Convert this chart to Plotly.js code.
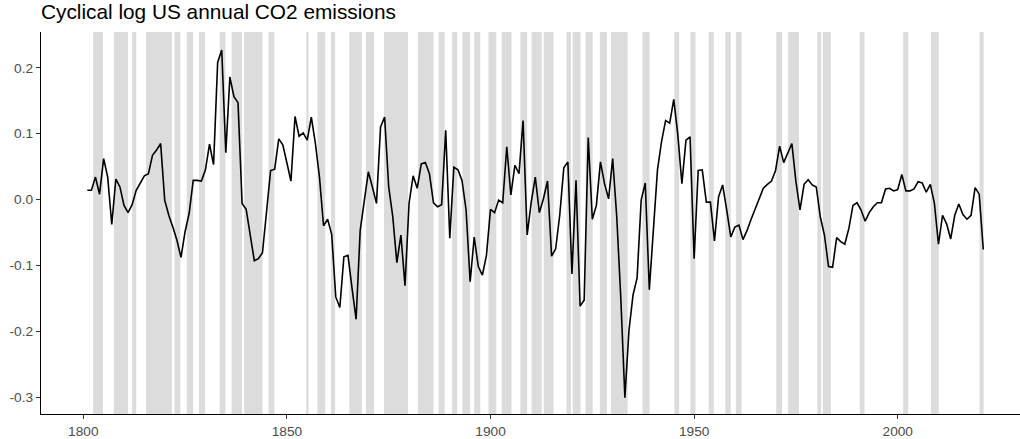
<!DOCTYPE html>
<html>
<head>
<meta charset="utf-8">
<script src="https://cdn.plot.ly/plotly-3.0.1.min.js"></script>
<style>html,body{margin:0;padding:0;background:#fff;}#chart{width:1020px;height:439px;}</style>
</head>
<body>
<div id="chart"></div>
<script>
// Observation years (annual data, dated at year end)
const firstYear = 1800;
const lastYear = 2020;

// Cyclical component of log US annual CO2 emissions, 1800..2020
const cyclical = [
  0.014, 0.014, 0.034, 0.008, 0.062, 0.034, -0.038, 0.031, 0.019, -0.009,
  -0.020, -0.008, 0.014, 0.024, 0.036, 0.039, 0.067, 0.075, 0.085, -0.001,
  -0.024, -0.042, -0.062, -0.088, -0.049, -0.021, 0.029, 0.029, 0.028, 0.045,
  0.084, 0.053, 0.208, 0.227, 0.071, 0.186, 0.156, 0.147, -0.006, -0.015,
  -0.052, -0.093, -0.090, -0.081, -0.019, 0.044, 0.046, 0.092, 0.083, 0.055,
  0.028, 0.126, 0.096, 0.101, 0.090, 0.125, 0.085, 0.034, -0.040, -0.030,
  -0.053, -0.148, -0.164, -0.087, -0.085, -0.135, -0.182, -0.047, -0.006, 0.042,
  0.019, -0.006, 0.110, 0.125, 0.019, -0.026, -0.096, -0.054, -0.131, -0.006,
  0.036, 0.017, 0.054, 0.056, 0.039, -0.005, -0.011, -0.008, 0.105, -0.059,
  0.049, 0.045, 0.029, -0.016, -0.125, -0.057, -0.102, -0.115, -0.085, -0.015,
  -0.020, -0.001, -0.005, 0.080, 0.007, 0.052, 0.039, 0.120, -0.054, -0.004,
  0.034, -0.020, 0.001, 0.028, -0.086, -0.075, -0.024, 0.048, 0.057, -0.113,
  0.029, -0.162, -0.153, 0.094, -0.030, -0.009, 0.057, 0.024, 0.001, 0.062,
  -0.026, -0.150, -0.301, -0.199, -0.145, -0.119, -0.001, 0.025, -0.137, -0.047,
  0.045, 0.088, 0.120, 0.116, 0.152, 0.098, 0.024, 0.090, 0.095, -0.090,
  0.044, 0.045, -0.004, -0.004, -0.063, 0.004, 0.022, -0.016, -0.057, -0.042,
  -0.039, -0.061, -0.047, -0.030, -0.014, -0.001, 0.017, 0.023, 0.028, 0.044,
  0.081, 0.056, 0.070, 0.085, 0.027, -0.016, 0.023, 0.030, 0.022, 0.019,
  -0.027, -0.054, -0.102, -0.103, -0.058, -0.064, -0.068, -0.044, -0.009, -0.005,
  -0.016, -0.033, -0.020, -0.011, -0.005, -0.005, 0.016, 0.017, 0.013, 0.015,
  0.038, 0.013, 0.013, 0.016, 0.027, 0.025, 0.011, 0.023, -0.006, -0.068,
  -0.024, -0.037, -0.060, -0.024, -0.007, -0.023, -0.030, -0.024, 0.018, 0.008,
  -0.076
];

// Recession periods (start / end, year-month)
const recessionStart = [
  '1802-06','1807-07','1812-01','1815-06','1822-06','1825-06','1828-06','1833-07','1836-06','1839-07',
  '1845-07','1854-10','1857-07','1860-11','1865-05','1869-06','1873-11','1882-03','1887-04','1890-08',
  '1893-02','1896-01','1899-07','1902-10','1907-05','1910-02','1913-02','1918-09','1920-03','1923-05',
  '1926-11','1929-08','1937-05','1945-03','1949-02','1953-08','1957-09','1960-04','1970-03','1973-02',
  '1980-04','1981-08','1990-09','2001-05','2008-03','2020-02'
];
const recessionEnd = [
  '1804-11','1811-01','1813-01','1821-10','1823-11','1827-01','1829-12','1834-12','1839-01','1844-01',
  '1846-12','1855-05','1859-06','1861-11','1868-06','1871-06','1879-10','1886-01','1888-10','1891-11',
  '1895-01','1897-07','1901-06','1905-03','1909-01','1912-08','1915-07','1919-10','1922-02','1925-02',
  '1928-08','1933-09','1939-02','1946-05','1950-05','1954-11','1959-01','1961-09','1971-08','1975-10',
  '1981-03','1983-08','1991-11','2002-08','2010-02','2021-02'
];

const xTickLabels = ['1800', '1850', '1900', '1950', '2000'];
const yTickValues = [0.2, 0.1, 0.0, -0.1, -0.2, -0.3];
const yTickLabels = ['0.2', '0.1', '0.0', '-0.1', '-0.2', '-0.3'];

const years = [];
for (let y = firstYear; y <= lastYear; y++) years.push(y);
const xDates = years.map(y => y + '-12-31');

const shapes = recessionStart.map((s, i) => ({
  type: 'rect', xref: 'x', yref: 'paper',
  x0: s, x1: recessionEnd[i], y0: 0, y1: 1,
  fillcolor: '#DCDCDC', line: {width: 0}, layer: 'below'
}));

const font = 'Liberation Sans, Arial, Helvetica, sans-serif';

const trace = {
  x: xDates, y: cyclical, type: 'scatter', mode: 'lines',
  line: {color: '#000000', width: 1.6}, hoverinfo: 'x+y'
};

const layout = {
  width: 1020, height: 439,
  margin: {l: 41, r: 0, t: 32, b: 25, pad: 0},
  paper_bgcolor: '#ffffff', plot_bgcolor: '#ffffff',
  showlegend: false,
  title: {
    text: 'Cyclical log US annual CO2 emissions',
    x: 0, xref: 'paper', xanchor: 'left',
    y: 0.989, yref: 'container', yanchor: 'top',
    font: {family: font, size: 20.8, color: '#000000'}
  },
  xaxis: {
    type: 'date',
    range: ['1789-08-14', '2030-01-07'],
    showgrid: false, zeroline: false,
    showline: true, linecolor: '#000000', linewidth: 1.3,
    ticks: 'outside', ticklen: 4, tickwidth: 1.3, tickcolor: '#333333',
    tickvals: xTickLabels.map(t => t + '-01-01'),
    ticktext: xTickLabels,
    tickfont: {family: font, size: 13.7, color: '#4D4D4D'}
  },
  yaxis: {
    range: [-0.3258, 0.2543],
    showgrid: false, zeroline: false,
    showline: true, linecolor: '#000000', linewidth: 1.3,
    ticks: 'outside', ticklen: 4, tickwidth: 1.3, tickcolor: '#333333',
    tickvals: yTickValues, ticktext: yTickLabels,
    tickfont: {family: font, size: 13.7, color: '#4D4D4D'}
  },
  shapes: shapes
};

Plotly.newPlot('chart', [trace], layout, {displayModeBar: false, responsive: false});
</script>
</body>
</html>
